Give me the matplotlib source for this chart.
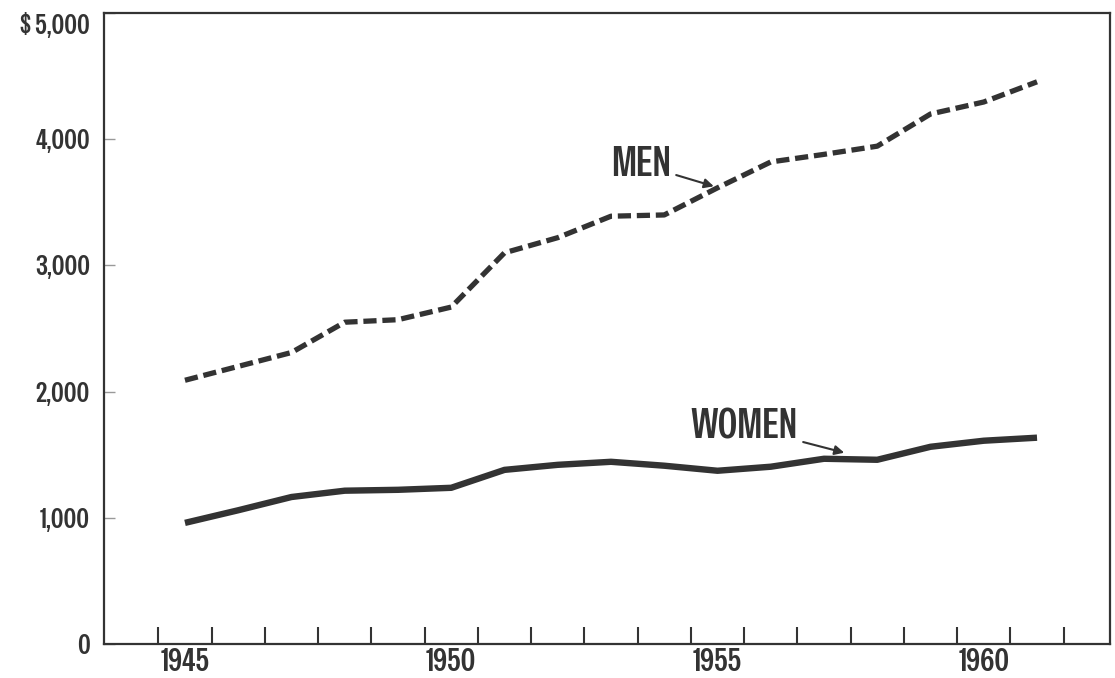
import matplotlib
matplotlib.use("Agg")
import matplotlib.pyplot as plt
import numpy as np

years = list(range(1945, 1962))
men = [2090, 2200, 2310, 2550, 2570, 2670, 3100, 3220, 3390, 3400, 3615, 3820, 3880, 3945, 4200, 4295, 4455]
women = [960, 1060, 1165, 1215, 1222, 1238, 1380, 1420, 1444, 1413, 1373, 1405, 1468, 1460, 1563, 1611, 1635]

year_labels = [1945, 1950, 1955, 1960]
y_ticks = [0, 1000, 2000, 3000, 4000, 5000]
y_labels = ["0", "1,000", "2,000", "3,000", "4,000", "$ 5,000"]

ink = "#333333"
plt.rcParams["font.family"] = ["Special Gothic Condensed One", "Sofia Sans Condensed", "DejaVu Sans"]

fig = plt.figure(figsize=(11.15, 6.78), dpi=100)
ax = fig.add_axes([0.0933, 0.0501, 0.9022, 0.9307])

ax.plot(years, women, color=ink, lw=4.6, solid_capstyle="butt", solid_joinstyle="round")
ax.plot(years, men, color=ink, lw=3.8, dashes=(2.5, 1.1), dash_capstyle="butt")

ax.set_xlim(1943.48, 1962.37)
ax.set_ylim(0, 5000)

# year boundary ticks, labels centred on the year
ax.set_xticks(np.arange(1944.5, 1962, 1.0))
ax.set_xticklabels([])
ax.set_xticks(year_labels, minor=True)
ax.set_xticklabels([str(y) for y in year_labels], minor=True)
ax.tick_params(axis="x", which="major", direction="in", length=12, width=1.5, color=ink)
ax.tick_params(axis="x", which="minor", length=0, pad=3, labelsize=23, labelcolor=ink)

ax.set_yticks(y_ticks)
ax.set_yticklabels(y_labels)
ax.tick_params(axis="y", direction="in", length=8, width=1.0, color="#999999",
               pad=10, labelsize=20, labelcolor=ink)
ax.get_yticklabels()[-1].set_va("top")

for s in ax.spines.values():
    s.set_color(ink)
    s.set_linewidth(1.6)

ax.annotate("MEN", xy=(1954.93, 3627), xytext=(1953.56, 3800),
            fontsize=30, color=ink, ha="center", va="center",
            arrowprops=dict(arrowstyle="-|>", color=ink, lw=1.5, mutation_scale=14,
                            shrinkA=2, shrinkB=0))
ax.annotate("WOMEN", xy=(1957.38, 1516), xytext=(1955.5, 1722),
            fontsize=30, color=ink, ha="center", va="center",
            arrowprops=dict(arrowstyle="-|>", color=ink, lw=1.5, mutation_scale=14,
                            shrinkA=2, shrinkB=0))

fig.savefig("out.png", dpi=100)
